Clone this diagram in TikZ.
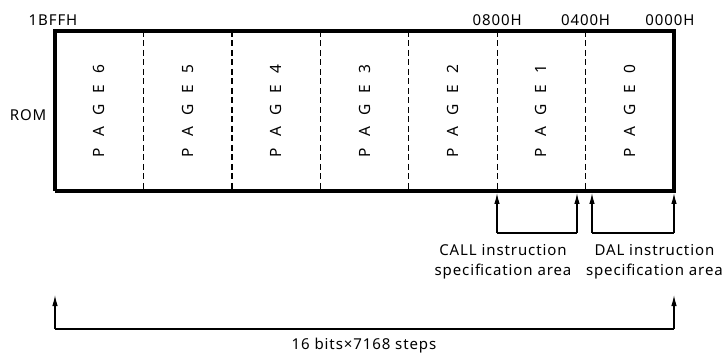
\documentclass[tikz,border=0pt]{standalone}
\usepackage{fontspec}
\setmainfont{Noto Sans}
\newfontfamily\lblfont[LetterSpace=6]{Noto Sans}
\usetikzlibrary{arrows.meta}
\tikzset{
  lbl/.style={font=\lblfont\fontsize{15}{20}\selectfont, inner sep=0pt},
  pagecol/.style={minimum width=88.43pt, minimum height=160pt, inner sep=0pt, outer sep=0pt},
  pagetext/.style={font=\fontsize{15.5}{18}\selectfont, inner sep=0pt, rotate=90},
  border/.style={line width=3.8pt},
  sep/.style={line width=1.3pt, dash pattern=on 6pt off 3.5pt},
  arr/.style={line width=1.2pt, -{Latex[length=11pt,width=5.5pt]}},
  brk/.style={line width=1.8pt}
}
\begin{document}
\begin{tikzpicture}[x=1pt,y=-1pt]
\useasboundingbox (0,0) rectangle (725,355);
% page columns
\foreach \i/\n in {0/6,1/5,2/4,3/3,4/2,5/1,6/0}{
  \node[pagecol] (p\n) at ({55+88.43*\i+44.21},111) {};
  \node[pagetext] (t\n) at ({55+88.43*\i+44.21},111) {P\hspace{0.72em}A\hspace{0.72em}G\hspace{0.72em}E\hspace{0.72em}\n};
}
% dashed separators
\foreach \a/\b in {p6/p5,p5/p4,p4/p3,p3/p2,p2/p1,p1/p0}{
  \draw[sep] (\a.north east) -- (\a.south east);
}
% outer border
\draw[border] (p6.south west) -- (p6.north west) -- (p0.north east) -- (p0.south east) -- (p6.south west);
% address labels
\node[lbl] (a1) at (p6.north west) [yshift=11pt, xshift=-2pt] {1BFFH};
\node[lbl] (a2) at (p1.north west) [yshift=11pt] {0800H};
\node[lbl] (a3) at (p0.north west) [yshift=11pt] {0400H};
\node[lbl] (a4) at (p0.north east) [yshift=11pt, xshift=-4pt] {0000H};
\node[lbl] (rom) at (28,115) {ROM};
% CALL bracket
\coordinate (c1) at (497,233);
\coordinate (c2) at (577,233);
\coordinate (c1t) at (497,193);
\coordinate (c2t) at (577,193);
\draw[brk] (c1) -- (c2);
\draw[arr] (c1) -- (c1t);
\draw[arr] (c2) -- (c2t);
% DAL bracket
\coordinate (d1) at (592,233);
\coordinate (d2) at (674,233);
\coordinate (d1t) at (592,193);
\coordinate (d2t) at (674,193);
\draw[brk] (d1) -- (d2);
\draw[arr] (d1) -- (d1t);
\draw[arr] (d2) -- (d2t);
\node[lbl, align=center] (callt) at (503,262) {CALL instruction\\specification area};
\node[lbl, align=center, anchor=east] (dalt) at (723,262) {DAL instruction\\specification area};
% total bracket
\coordinate (b1) at (55,329);
\coordinate (b2) at (674,329);
\coordinate (b1t) at (55,295);
\coordinate (b2t) at (674,295);
\draw[brk] (b1) -- (b2);
\draw[arr] (b1) -- (b1t);
\draw[arr] (b2) -- (b2t);
\node[lbl] (total) at (364,346) {16 bits×7168 steps};
\end{tikzpicture}
\end{document}
